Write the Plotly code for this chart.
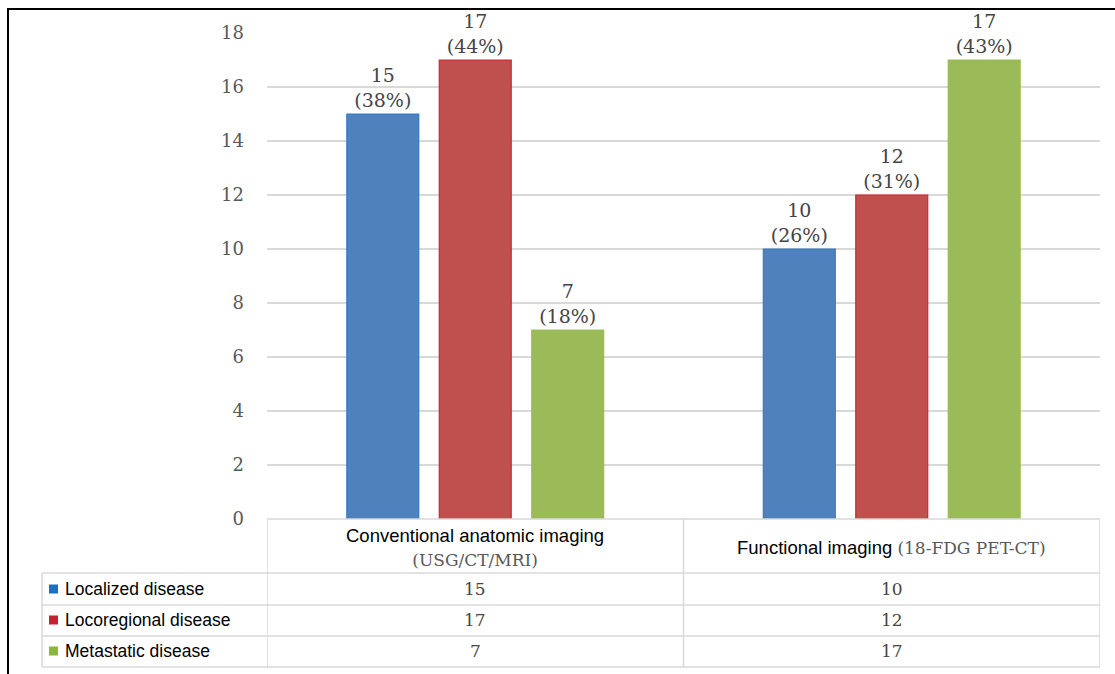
import plotly.graph_objects as go

# ---------------- data ----------------
categories = ["Conventional anatomic imaging (USG/CT/MRI)", "Functional imaging (18-FDG PET-CT)"]
cat_main = ["Conventional anatomic imaging", "Functional imaging "]
cat_sub = ["(USG/CT/MRI)", "(18-FDG PET-CT)"]
cat_sub_newline = [True, False]

series_names = ["Localized disease", "Locoregional disease", "Metastatic disease"]
localized = [15, 10]
locoregional = [17, 12]
metastatic = [7, 17]
localized_pct = [38, 26]
locoregional_pct = [44, 31]
metastatic_pct = [18, 43]

y_ticks = [0, 2, 4, 6, 8, 10, 12, 14, 16, 18]

# ---------------- style ----------------
fill_colors = ["#4F81BD", "#C0504D", "#9BBB59"]
line_colors = ["#2F7CCB", "#D2252F", "#9BBB59"]
legend_colors = ["#1F6FC0", "#C8202C", "#8DB63F"]
SERIF = "DejaVu Serif"
SANS = "Liberation Sans, Arial"
GRID = "#D9D9D9"

W, H = 1115, 674
L, R, T, B = 267, 1100, 33, 519


def xp(px):
    return (px - L) / (R - L)


def yp(py):
    return (B - py) / (B - T)


values = [localized, locoregional, metastatic]
pcts = [localized_pct, locoregional_pct, metastatic_pct]

fig = go.Figure()
for name, vals, pc, fc, lc in zip(series_names, values, pcts, fill_colors, line_colors):
    fig.add_trace(go.Bar(
        name=name,
        x=categories,
        y=vals,
        customdata=pc,
        marker=dict(color=fc, line=dict(color=lc, width=1.2)),
        texttemplate="%{y}<br>(%{customdata}%)",
        textposition="outside",
        cliponaxis=False,
        textfont=dict(family=SERIF, size=19, color="#454545"),
        outsidetextfont=dict(family=SERIF, size=19, color="#454545"),
    ))

shapes = []
# outer frame (top and left)
shapes.append(dict(type="line", xref="paper", yref="paper", x0=xp(7), x1=xp(1115), y0=yp(9), y1=yp(9),
                   line=dict(color="black", width=2)))
shapes.append(dict(type="line", xref="paper", yref="paper", x0=xp(8), x1=xp(8), y0=yp(9), y1=yp(674),
                   line=dict(color="black", width=2)))

# data table lines
row_lines = [519, 573, 605, 636, 667]
for i, py in enumerate(row_lines):
    x0 = L if i == 0 else 42
    shapes.append(dict(type="line", xref="paper", yref="paper", x0=xp(x0), x1=xp(R), y0=yp(py), y1=yp(py),
                       line=dict(color=GRID, width=1.5)))
for xb in [-0.5, 0.5, 1.5]:
    shapes.append(dict(type="line", xref="x", yref="paper", x0=xb, x1=xb, y0=yp(519), y1=yp(667),
                       line=dict(color=GRID, width=1.5)))
shapes.append(dict(type="line", xref="paper", yref="paper", x0=xp(42), x1=xp(42), y0=yp(573), y1=yp(667),
                   line=dict(color=GRID, width=1.5)))

annotations = []
# header
for cat, main, sub, nl in zip(categories, cat_main, cat_sub, cat_sub_newline):
    sep = "<br>" if nl else ""
    txt = (f"{main}{sep}<span style='font-family:{SERIF};color:#595959;font-size:17px'>{sub}</span>")
    annotations.append(dict(xref="x", yref="paper", x=cat, y=yp(547), text=txt, showarrow=False,
                            xanchor="center", yanchor="middle",
                            font=dict(family=SANS, size=18.5, color="#000000")))

row_centers = [589, 620, 651]
for name, vals, lc, py in zip(series_names, values, legend_colors, row_centers):
    shapes.append(dict(type="rect", xref="paper", yref="paper", x0=xp(49), x1=xp(58), y0=yp(py + 4.5),
                       y1=yp(py - 4.5), fillcolor=lc, line=dict(width=0)))
    annotations.append(dict(xref="paper", yref="paper", x=xp(63), y=yp(py), text=name, showarrow=False,
                            xanchor="left", yanchor="middle",
                            font=dict(family=SANS, size=17.5, color="#000000")))
    for cat, v in zip(categories, vals):
        annotations.append(dict(xref="x", yref="paper", x=cat, y=yp(py), text=str(v), showarrow=False,
                                xanchor="center", yanchor="middle",
                                font=dict(family=SERIF, size=17, color="#454545")))

fig.update_layout(
    width=W, height=H,
    margin=dict(l=L, r=W - R, t=T, b=H - B, pad=0),
    paper_bgcolor="white", plot_bgcolor="white",
    barmode="group", bargap=0.334, bargroupgap=0.222,
    showlegend=False,
    shapes=shapes,
    annotations=annotations,
    xaxis=dict(type="category", range=[-0.5, 1.5], showticklabels=False, showgrid=False,
               zeroline=False, showline=False, ticks=""),
    yaxis=dict(range=[0, 18], tickvals=y_ticks, showgrid=True, gridcolor=GRID, gridwidth=1.5,
               zeroline=False, showline=False, ticks="", ticklabelstandoff=22,
               tickfont=dict(family=SERIF, size=18, color="#595959")),
)

fig.write_html("out.html")
